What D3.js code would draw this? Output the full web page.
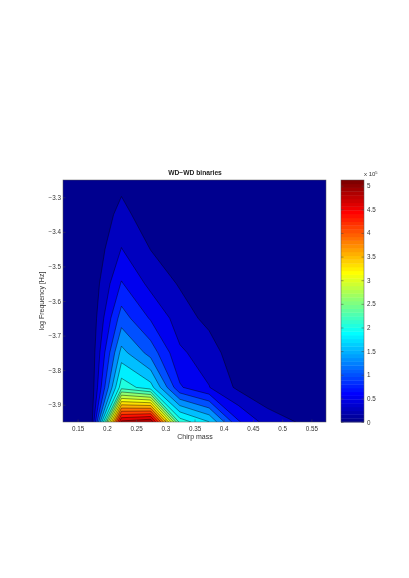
<!DOCTYPE html>
<html><head><meta charset="utf-8">
<script src="https://cdn.jsdelivr.net/npm/d3@7"></script>
<style>
html,body{margin:0;padding:0;background:#fff;overflow:hidden}
svg{display:block;filter:blur(0.3px)}
text{font-family:"Liberation Sans",Arial,sans-serif;fill:#222}
</style></head><body><svg id="c" width="409" height="578"></svg>
<script>
const chirpMass = [0.125,0.175,0.225,0.275,0.325,0.375,0.425,0.475,0.525,0.575];
const logFreq = [-3.25,-3.35,-3.45,-3.55,-3.65,-3.75,-3.85,-3.95];
// density in units of 1e5, one array per log-frequency row
const rowA = [0,0.00,0.17,0.02,0.00,0,0,0,0,0];
const rowB = [0,0.00,0.35,0.08,0.02,0,0,0,0,0];
const rowC = [0,0.05,0.52,0.25,0.12,0,0,0,0,0];
const rowD = [0,0.08,0.79,0.44,0.23,0.08,0,0,0,0];
const rowE = [0,0.10,1.15,0.74,0.39,0.175,0,0,0,0];
const rowF = [0,0.12,1.63,1.18,0.55,0.40,0.05,0,0,0];
const rowG = [0,0.14,2.20,1.90,0.80,0.52,0.20,0.035,0.01,0];
const rowH = [0,0.25,4.95,5.12,2.20,1.80,0.80,0.40,0.25,0.03];
const rows = [rowA,rowB,rowC,rowD,rowE,rowF,rowG,rowH];
const xTicks = [0.15,0.2,0.25,0.3,0.35,0.4,0.45,0.5,0.55];
const yTicks = [-3.3,-3.4,-3.5,-3.6,-3.7,-3.8,-3.9];
const cbTicks = [0,0.5,1,1.5,2,2.5,3,3.5,4,4.5,5];
const zMax = 5.12, nLevels = 20, nColors = 64;

const L=63,R=326,T=180,B=422, CL=341,CR=364;
const svg=d3.select("#c");
const x=d3.scaleLinear().domain([0.125,0.575]).range([L,R]);
const y=d3.scaleLinear().domain([-3.25,-3.95]).range([T,B]);
const cb=d3.scaleLinear().domain([0,zMax]).range([B,T]);

function jet(t){
  const cl=v=>Math.max(0,Math.min(1,v));
  const n=nColors, i=Math.min(n-1,Math.floor(t*n));
  const u=(i+1)/n;
  const r=cl(Math.min(4*u-1.5,-4*u+4.5)),g=cl(Math.min(4*u-0.5,-4*u+3.5)),b=cl(Math.min(4*u+0.5,-4*u+2.5));
  return d3.rgb(r*255,g*255,b*255).formatRgb();
}
const defs=svg.append("defs");
defs.append("clipPath").attr("id","pc").append("rect").attr("x",L).attr("y",T).attr("width",R-L).attr("height",B-T);

const values=rows.flat();
const thresholds=d3.range(1,nLevels).map(k=>k*zMax/nLevels);
const contours=d3.contours().size([chirpMass.length,logFreq.length]).thresholds(thresholds).smooth(true)(values);
const dx=chirpMass[1]-chirpMass[0], dy=logFreq[1]-logFreq[0];
const proj=d3.geoTransform({point(a,b){this.stream.point(x(chirpMass[0]+(a-0.5)*dx),y(logFreq[0]+(b-0.5)*dy));}});
const path=d3.geoPath(proj);

const g=svg.append("g").attr("clip-path","url(#pc)");
g.append("rect").attr("x",L).attr("y",T).attr("width",R-L).attr("height",B-T).attr("fill",jet(0));
g.selectAll("path").data(contours).join("path")
 .attr("d",path).attr("fill",d=>jet(d.value/zMax))
 .attr("stroke","#000").attr("stroke-width",0.5).attr("stroke-opacity",0.85);

const axCol="#444";
function style(s){
  s.select(".domain").remove();
  s.selectAll("line").attr("stroke",axCol).attr("stroke-width",0.5);
  s.selectAll("text").attr("font-size",6.3).style("fill","#333");
}
svg.append("g").attr("transform",`translate(0,${B})`)
  .call(d3.axisBottom(x).tickValues(xTicks).tickSize(-2.5).tickPadding(4.5).tickFormat(d3.format("")))
  .call(style);
svg.append("g").attr("transform",`translate(${L},0)`)
  .call(d3.axisLeft(y).tickValues(yTicks).tickSize(-2.5).tickPadding(2).tickFormat(d=>"\u2212"+Math.abs(d)))
  .call(style);
svg.append("rect").attr("x",L).attr("y",T).attr("width",R-L).attr("height",B-T)
  .attr("fill","none").attr("stroke","#555").attr("stroke-width",0.5);

// colour bar
const bands=d3.range(nColors);
svg.append("g").selectAll("rect").data(bands).join("rect")
  .attr("x",CL).attr("width",CR-CL)
  .attr("y",i=>cb((i+1)*zMax/nColors))
  .attr("height",i=>cb(i*zMax/nColors)-cb((i+1)*zMax/nColors)+0.4)
  .attr("fill",i=>jet((i+0.5)/nColors));
svg.append("g").attr("transform",`translate(${CR},0)`)
  .call(d3.axisRight(cb).tickValues(cbTicks).tickSize(-2.5).tickPadding(3).tickFormat(d3.format("")))
  .call(style);
svg.append("g").attr("transform",`translate(${CL},0)`)
  .call(d3.axisLeft(cb).tickValues(cbTicks).tickSize(-2.5).tickFormat(""))
  .call(style);
svg.append("rect").attr("x",CL).attr("y",T).attr("width",CR-CL).attr("height",B-T)
  .attr("fill","none").attr("stroke","#555").attr("stroke-width",0.5);

const e=svg.append("text").attr("x",364).attr("y",176).attr("font-size",6).style("fill","#333").text("x 10");
e.append("tspan").attr("font-size",4).attr("dy",-2).text("5");

svg.append("text").attr("x",195).attr("y",175).attr("text-anchor","middle").attr("font-size",6.7).attr("font-weight","bold").text("WD\u2212WD binaries");
svg.append("text").attr("x",195).attr("y",438.5).attr("text-anchor","middle").attr("font-size",7).style("fill","#333").text("Chirp mass");
svg.append("text").attr("transform","translate(44,301) rotate(-90)").attr("text-anchor","middle").attr("font-size",7).style("fill","#333").text("log Frequency [Hz]");
</script></body></html>
